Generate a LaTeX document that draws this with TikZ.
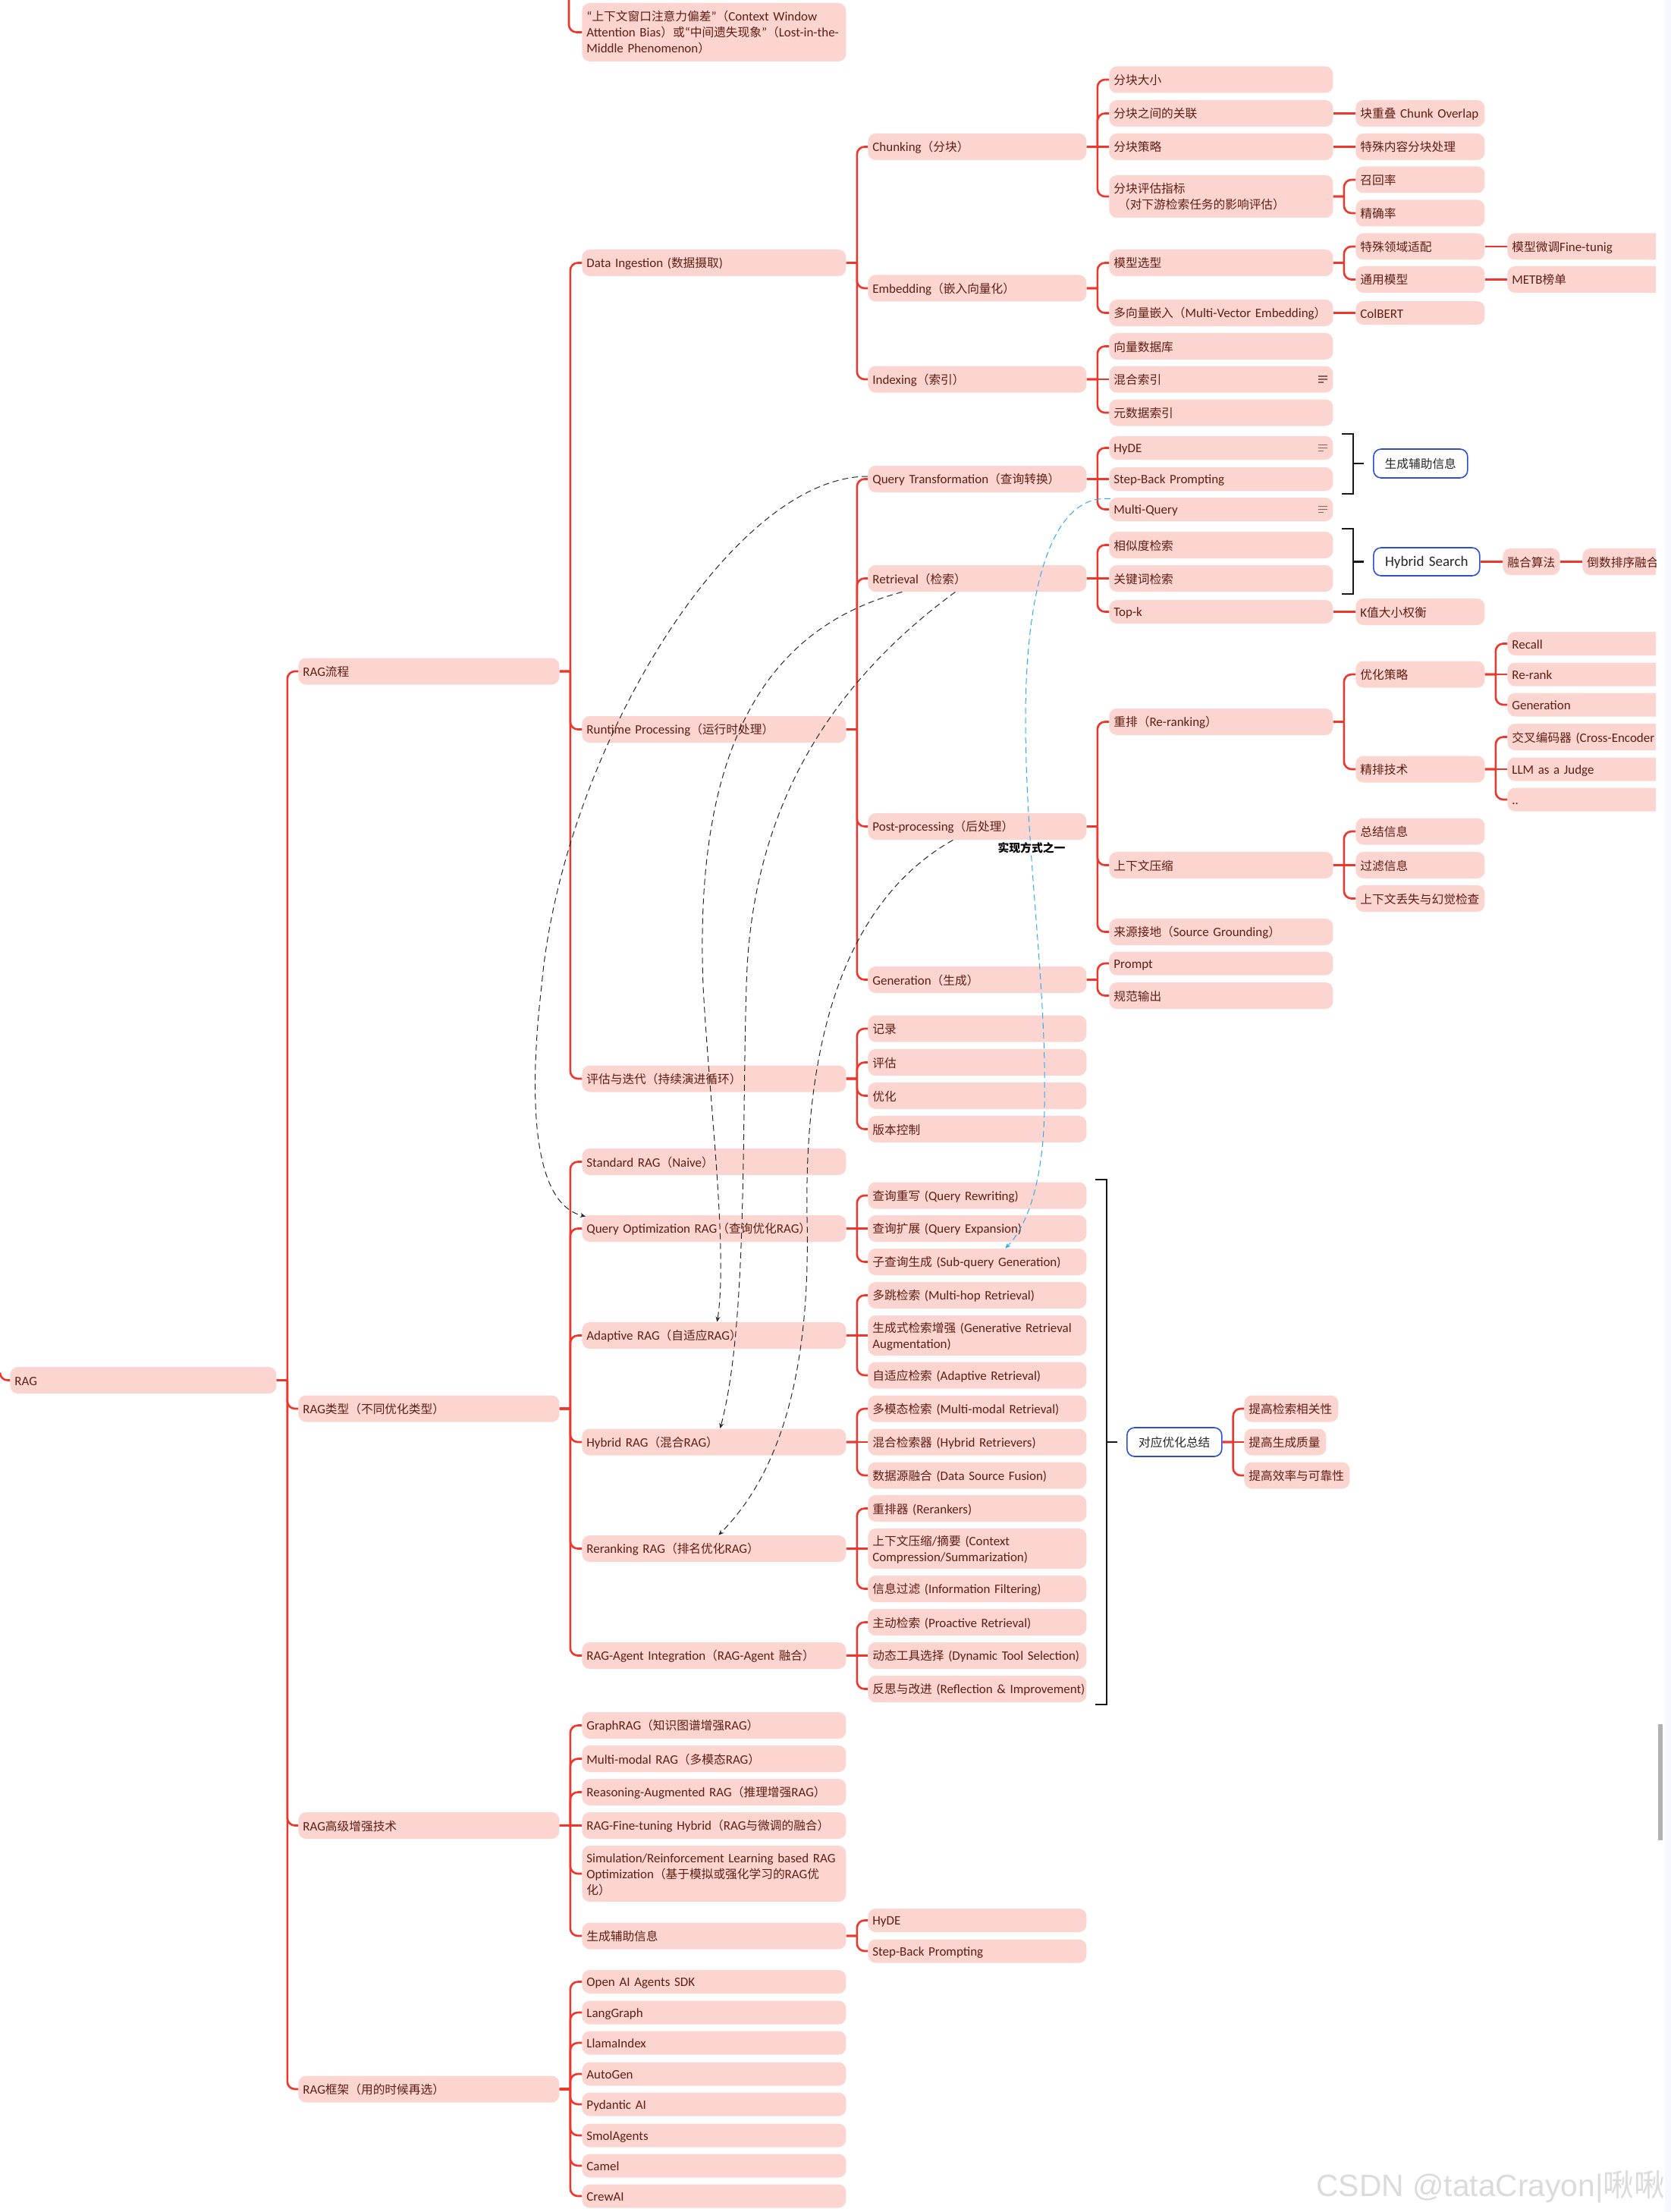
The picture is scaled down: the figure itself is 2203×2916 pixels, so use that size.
\documentclass[tikz,border=0pt]{standalone}
\usepackage{fontspec}
\setmainfont[Scale=1.08,WordSpace=.8]{Carlito}
\newfontfamily\zhfont{Noto Sans CJK SC}
\newfontfamily\markfont{Liberation Sans}
\usetikzlibrary{arrows.meta}

\XeTeXinterchartokenstate=1
\newXeTeXintercharclass\zhclass
\newcount\zhchar
\zhchar="3000
\loop\ifnum\zhchar<"A000 \XeTeXcharclass\zhchar=\zhclass \advance\zhchar by 1 \repeat
\zhchar="FF00
\loop\ifnum\zhchar<"FFF0 \XeTeXcharclass\zhchar=\zhclass \advance\zhchar by 1 \repeat
\XeTeXinterchartoks 0 \zhclass = {\zhfont}
\XeTeXinterchartoks \zhclass 0 = {\rmfamily}
\XeTeXinterchartoks 4095 \zhclass = {\zhfont}
\XeTeXinterchartoks \zhclass 4095 = {\rmfamily}

\definecolor{pillfill}{HTML}{FCD5D0}
\definecolor{pilltext}{HTML}{5E1E14}
\definecolor{treered}{HTML}{F0352A}
\definecolor{ringblue}{HTML}{2B4FD8}
\definecolor{linkblue}{HTML}{29ABF0}

\tikzset{
  evenline/.style={execute at begin node={\rule[-1.3pt]{0pt}{9.1pt}},execute at end node={\rule[-1.3pt]{0pt}{1.3pt}}},
  pill/.style={anchor=west,fill=pillfill,text=pilltext,rounded corners=5pt,align=left,evenline,
    inner xsep=3pt,inner ysep=0pt,minimum height=17.5pt,
    font=\fontsize{7.85}{10.5}\selectfont},
  low/.style={minimum height=15.5pt},
  ring/.style={anchor=west,draw=ringblue,line width=.8pt,fill=white,text=black!85,rounded corners=5pt,evenline,
    align=center,inner xsep=0pt,inner ysep=0pt,font=\fontsize{7.85}{10.5}\selectfont},
  branch/.style={draw=treered,line width=1.3pt,rounded corners=5pt,
    to path={-- ++(14,0) ++(0,0) |- (\tikztotarget)}},
  level/.style={to path={-- (\tikztotarget)}},
  bracket/.style={draw=black!90,line width=1.2pt},
  link/.style={draw=black!85,line width=.5pt,dash pattern=on 4pt off 2.5pt,-{Stealth[length=3.5pt,width=3pt]}},
  notelines/.pic={
    \draw[pilltext!70,line width=.6pt] (0,-4) -- (12,-4) (0,0) -- (12,0) (0,4) -- (7,4);
  }
}

\begin{document}
\begin{tikzpicture}[x=.5pt,y=-.5pt]

      \useasboundingbox (0,0) rectangle (2203,2916);

      \fill[black!4!blue!3!white] (2195,0) rectangle (2203,2916);
      \fill[black!30] (2186,2273) rectangle (2192,2426);

      \begin{scope}[every node/.style={pill,text width=169.5pt}]
        \node (1) at (13,1819.5) {RAG};
      \end{scope}

      \begin{scope}[every node/.style={pill,text width=166pt}]
        \node (2) at (393,885) {RAG流程};
        \node (3) at (393,1857) {RAG类型（不同优化类型）};
        \node (4) at (393,2406.5) {RAG高级增强技术};
        \node (5) at (393,2754) {RAG框架（用的时候再选）};
      \end{scope}

      \begin{scope}[every node/.style={pill,text width=168pt}]
        \node[minimum height=38.5pt] (6) at (767,42.5) {“上下文窗口注意力偏差”（Context Window\\Attention Bias）或“中间遗失现象”（Lost-in-the-\\Middle Phenomenon）};
        \node (7) at (767,346.5) {Data Ingestion (数据摄取)};
        \node (8) at (767,961.5) {Runtime Processing（运行时处理）};
        \node (9) at (767,1422) {评估与迭代（持续演进循环）};
        \node (10) at (767,1531.5) {Standard RAG（Naive）};
        \node (11) at (767,1619.5) {Query Optimization RAG（查询优化RAG）};
        \node (12) at (767,1760.5) {Adaptive RAG（自适应RAG）};
        \node (13) at (767,1901) {Hybrid RAG（混合RAG）};
        \node (14) at (767,2041.5) {Reranking RAG（排名优化RAG）};
        \node (15) at (767,2182.5) {RAG-Agent Integration（RAG-Agent 融合）};
        \node (16) at (767,2274.5) {GraphRAG（知识图谱增强RAG）};
        \node (17) at (767,2318.5) {Multi-modal RAG（多模态RAG）};
        \node (18) at (767,2362.5) {Reasoning-Augmented RAG（推理增强RAG）};
        \node (19) at (767,2406.5) {RAG-Fine-tuning Hybrid（RAG与微调的融合）};
        \node[minimum height=37pt] (20) at (767,2470) {Simulation/Reinforcement Learning based RAG\\Optimization（基于模拟或强化学习的RAG优\\化）};
        \node (21) at (767,2552) {生成辅助信息};
        \node[low] (22) at (767,2612.5) {Open AI Agents SDK};
        \node[low] (23) at (767,2653) {LangGraph};
        \node[low] (24) at (767,2693) {LlamaIndex};
        \node[low] (25) at (767,2734) {AutoGen};
        \node[low] (26) at (767,2774) {Pydantic AI};
        \node[low] (27) at (767,2815) {SmolAgents};
        \node[low] (28) at (767,2855) {Camel};
        \node[low] (29) at (767,2895) {CrewAI};
      \end{scope}

      \begin{scope}[every node/.style={pill,text width=138pt}]
        \node (30) at (1144,193.5) {Chunking（分块）};
        \node (31) at (1144,380) {Embedding（嵌入向量化）};
        \node (32) at (1144,500) {Indexing（索引）};
        \node (33) at (1144,631.5) {Query Transformation（查询转换）};
        \node (34) at (1144,762.5) {Retrieval（检索）};
        \node (35) at (1144,1089.5) {Post-processing（后处理）};
        \node (36) at (1144,1291.5) {Generation（生成）};
        \node (37) at (1144,1356) {记录};
        \node (38) at (1144,1400.5) {评估};
        \node (39) at (1144,1444.5) {优化};
        \node (40) at (1144,1488.5) {版本控制};
        \node (41) at (1144,1576) {查询重写 (Query Rewriting)};
        \node (42) at (1144,1619.5) {查询扩展 (Query Expansion)};
        \node (43) at (1144,1663.5) {子查询生成 (Sub-query Generation)};
        \node (44) at (1144,1707.5) {多跳检索 (Multi-hop Retrieval)};
        \node[minimum height=26.5pt] (45) at (1144,1760.5) {生成式检索增强 (Generative Retrieval\\Augmentation)};
        \node (46) at (1144,1813) {自适应检索 (Adaptive Retrieval)};
        \node (47) at (1144,1857) {多模态检索 (Multi-modal Retrieval)};
        \node (48) at (1144,1901) {混合检索器 (Hybrid Retrievers)};
        \node (49) at (1144,1945) {数据源融合 (Data Source Fusion)};
        \node (50) at (1144,1988.5) {重排器 (Rerankers)};
        \node[minimum height=26.5pt] (51) at (1144,2041.5) {上下文压缩/摘要 (Context\\Compression/Summarization)};
        \node (52) at (1144,2094.5) {信息过滤 (Information Filtering)};
        \node (53) at (1144,2138.5) {主动检索 (Proactive Retrieval)};
        \node (54) at (1144,2182.5) {动态工具选择 (Dynamic Tool Selection)};
        \node (55) at (1144,2226.5) {\mbox{反思与改进 (Reflection \& Improvement)}};
        \node[low] (56) at (1144,2531.5) {HyDE};
        \node[low] (57) at (1144,2572) {Step-Back Prompting};
      \end{scope}

      \begin{scope}[every node/.style={pill,text width=141.5pt}]
        \node (58) at (1462,105) {分块大小};
        \node (59) at (1462,149.5) {分块之间的关联};
        \node (60) at (1462,193.5) {分块策略};
        \node[minimum height=28pt] (61) at (1462,259) {分块评估指标\\\ （对下游检索任务的影响评估）};
        \node (62) at (1462,346.5) {模型选型};
        \node (63) at (1462,412.5) {多向量嵌入（Multi-Vector Embedding）};
        \node (64) at (1462,456.5) {向量数据库};
        \node (65) at (1462,500) {混合索引};
        \node (66) at (1462,544) {元数据索引};
        \node[low] (67) at (1462,590.5) {HyDE};
        \node[low] (68) at (1462,631.5) {Step-Back Prompting};
        \node[low] (69) at (1462,671.5) {Multi-Query};
        \node (70) at (1462,718.5) {相似度检索};
        \node (71) at (1462,762.5) {关键词检索};
        \node[low] (72) at (1462,806.5) {Top-k};
        \node (73) at (1462,951.5) {重排（Re-ranking）};
        \node (74) at (1462,1140.5) {上下文压缩};
        \node (75) at (1462,1228.5) {来源接地（Source Grounding）};
        \node[low] (76) at (1462,1270) {Prompt};
        \node (77) at (1462,1312.5) {规范输出};
      \end{scope}

      \begin{scope}[every node/.style={pill,text width=79pt}]
        \node (78) at (1787,149.5) {块重叠 Chunk Overlap};
        \node (79) at (1787,193.5) {特殊内容分块处理};
        \node (80) at (1787,237) {召回率};
        \node (81) at (1787,281) {精确率};
        \node (82) at (1787,325) {特殊领域适配};
        \node (83) at (1787,368.5) {通用模型};
        \node[low] (84) at (1787,412.5) {ColBERT};
        \node (85) at (1787,806.5) {K值大小权衡};
        \node (86) at (1787,889) {优化策略};
        \node (87) at (1787,1014) {精排技术};
        \node (88) at (1787,1096) {总结信息};
        \node (89) at (1787,1140.5) {过滤信息};
        \node (90) at (1787,1184.5) {上下文丢失与幻觉检查};
      \end{scope}

      \begin{scope}
        \clip (0,0) rectangle (2183,2916);
        \begin{scope}[every node/.style={pill,text width=140pt}]
          \node (91) at (1987,325) {模型微调Fine-tunig};
          \node (92) at (1987,368.5) {METB榜单};
          \node[low] (93) at (1987,848.5) {Recall};
          \node[low] (94) at (1987,889) {Re-rank};
          \node[low] (95) at (1987,929) {Generation};
          \node (96) at (1987,971.5) {交叉编码器 (Cross-Encoder};
          \node[low] (97) at (1987,1014) {LLM as a Judge};
          \node[low] (98) at (1987,1054) {..};
          \node (100) at (2086,740.5) {倒数排序融合};
        \end{scope}
      \end{scope}

      \node[pill,text width=31.5pt] (99) at (1981,740.5) {融合算法};
      \node[pill,text width=56pt] (104) at (1640,1857) {提高检索相关性};
      \node[pill,text width=48pt] (105) at (1640,1901) {提高生成质量};
      \node[pill,text width=63.5pt] (106) at (1640,1945) {提高效率与可靠性};

      \node[ring,text width=62pt,minimum height=19pt] (101) at (1810,611) {生成辅助信息};
      \node[ring,text width=70pt,minimum height=18.5pt,font=\fontsize{8.8}{10.5}\selectfont] (102) at (1810,740.5) {Hybrid Search};
      \node[ring,text width=62.5pt,minimum height=19pt] (103) at (1485,1901) {对应优化总结};

      \pic at ([xshift=-10pt]65.east) {notelines};
      \pic at ([xshift=-10pt]67.east) {notelines};
      \pic at ([xshift=-10pt]69.east) {notelines};

      \coordinate (up) at (750,0);
      \coordinate (left) at (0,1810);
      \path[draw=treered,line width=1.3pt,rounded corners=5pt] (up) |- (6.west);
      \path[draw=treered,line width=1.3pt,rounded corners=5pt] (left) |- (1.west);

      \begin{scope}[every edge/.style={branch}]
        \path (1.east) edge (2.west);
        \path (1.east) edge (3.west);
        \path (1.east) edge (4.west);
        \path (1.east) edge (5.west);
        \path (2.east) edge (7.west);
        \path (2.east) edge (8.west);
        \path (2.east) edge (9.west);
        \path (3.east) edge (10.west);
        \path (3.east) edge (11.west);
        \path (3.east) edge (12.west);
        \path (3.east) edge (13.west);
        \path (3.east) edge (14.west);
        \path (3.east) edge (15.west);
        \path (4.east) edge (16.west);
        \path (4.east) edge (17.west);
        \path (4.east) edge (18.west);
        \path (4.east) edge[level] (19.west);
        \path (4.east) edge (20.west);
        \path (4.east) edge (21.west);
        \path (5.east) edge (22.west);
        \path (5.east) edge (23.west);
        \path (5.east) edge (24.west);
        \path (5.east) edge (25.west);
        \path (5.east) edge (26.west);
        \path (5.east) edge (27.west);
        \path (5.east) edge (28.west);
        \path (5.east) edge (29.west);
        \path (7.east) edge (30.west);
        \path (7.east) edge (31.west);
        \path (7.east) edge (32.west);
        \path (8.east) edge (33.west);
        \path (8.east) edge (34.west);
        \path (8.east) edge (35.west);
        \path (8.east) edge (36.west);
        \path (9.east) edge (37.west);
        \path (9.east) edge (38.west);
        \path (9.east) edge (39.west);
        \path (9.east) edge (40.west);
        \path (11.east) edge (41.west);
        \path (11.east) edge[level] (42.west);
        \path (11.east) edge (43.west);
        \path (12.east) edge (44.west);
        \path (12.east) edge[level] (45.west);
        \path (12.east) edge (46.west);
        \path (13.east) edge (47.west);
        \path (13.east) edge[level] (48.west);
        \path (13.east) edge (49.west);
        \path (14.east) edge (50.west);
        \path (14.east) edge[level] (51.west);
        \path (14.east) edge (52.west);
        \path (15.east) edge (53.west);
        \path (15.east) edge[level] (54.west);
        \path (15.east) edge (55.west);
        \path (21.east) edge (56.west);
        \path (21.east) edge (57.west);
        \path (30.east) edge (58.west);
        \path (30.east) edge (59.west);
        \path (30.east) edge[level] (60.west);
        \path (30.east) edge (61.west);
        \path (31.east) edge (62.west);
        \path (31.east) edge (63.west);
        \path (32.east) edge (64.west);
        \path (32.east) edge[level] (65.west);
        \path (32.east) edge (66.west);
        \path (33.east) edge (67.west);
        \path (33.east) edge[level] (68.west);
        \path (33.east) edge (69.west);
        \path (34.east) edge (70.west);
        \path (34.east) edge[level] (71.west);
        \path (34.east) edge (72.west);
        \path (35.east) edge (73.west);
        \path (35.east) edge (74.west);
        \path (35.east) edge (75.west);
        \path (36.east) edge (76.west);
        \path (36.east) edge (77.west);
        \path (59.east) edge[level] (78.west);
        \path (60.east) edge[level] (79.west);
        \path (61.east) edge (80.west);
        \path (61.east) edge (81.west);
        \path (62.east) edge (82.west);
        \path (62.east) edge (83.west);
        \path (63.east) edge[level] (84.west);
        \path (72.east) edge[level] (85.west);
        \path (73.east) edge (86.west);
        \path (73.east) edge (87.west);
        \path (74.east) edge (88.west);
        \path (74.east) edge[level] (89.west);
        \path (74.east) edge (90.west);
        \path (82.east) edge[level] (91.west);
        \path (83.east) edge[level] (92.west);
        \path (86.east) edge (93.west);
        \path (86.east) edge[level] (94.west);
        \path (86.east) edge (95.west);
        \path (87.east) edge (96.west);
        \path (87.east) edge[level] (97.west);
        \path (87.east) edge (98.west);
        \path (102.east) edge[level] (99.west);
        \path (99.east) edge[level] (100.west);
        \path (103.east) edge (104.west);
        \path (103.east) edge[level] (105.west);
        \path (103.east) edge (106.west);
      \end{scope}

      \draw[bracket] (1769,572) -| (1784,651) -- (1769,651);
      \draw[bracket] (1784,611) -- (1798,611);
      \draw[bracket] (1769,697) -| (1784,783) -- (1769,783);
      \draw[bracket] (1784,740.5) -- (1798,740.5);
      \draw[bracket] (1444,1555) -| (1459,2247) -- (1444,2247);
      \draw[bracket] (1459,1901) -- (1473,1901);

      \coordinate (turn1) at (714,1300);
      \coordinate (turn2) at (927,1300);
      \coordinate (turn3) at (984,1300);
      \coordinate (turn4) at (1064,1606);
      \coordinate (turn5) at (1352,948);
      \coordinate (turn6) at (1377,1453);

      \draw[link] ([yshift=1.75pt]33.west) .. controls (960,628) and (740,1000) .. (turn1)
        .. controls (700,1420) and (695,1585) .. ([xshift=2.5pt,yshift=-1pt]11.north west);
      \draw[link] ([xshift=-49.5pt]34.south) .. controls (1000,830) and (915,1000) .. (turn2)
        .. controls (935,1450) and (960,1650) .. ([xshift=2pt]12.north);
      \draw[link] ([xshift=-14.5pt]34.south) .. controls (1110,890) and (990,1050) .. (turn3)
        .. controls (978,1500) and (985,1750) .. ([xshift=4pt]13.north);
      \draw[link] ([xshift=-16pt]35.south) .. controls (1110,1190) and (1060,1380) .. (turn4)
        .. controls (1068,1780) and (1040,1930) .. ([xshift=3pt]14.north);
      \draw[link,draw=linkblue] ([xshift=1pt,yshift=-1pt]69.north west) .. controls (1385,650) and (1352,780) .. (turn5)
        .. controls (1352,1120) and (1380,1300) .. (turn6)
        .. controls (1377,1540) and (1360,1610) .. ([xshift=18.5pt]43.north);

      \node[fill=white,inner sep=1pt,font=\fontsize{7.4}{9}\selectfont\bfseries] (107) at (1360,1117.5) {实现方式之一};

      \node[anchor=west,inner sep=0pt,text=black!14,font=\fontsize{20.4}{24}\selectfont] (108) at (1735,2883) {{\markfont CSDN @tataCrayon|}啾啾};

    \end{tikzpicture}
\end{document}
